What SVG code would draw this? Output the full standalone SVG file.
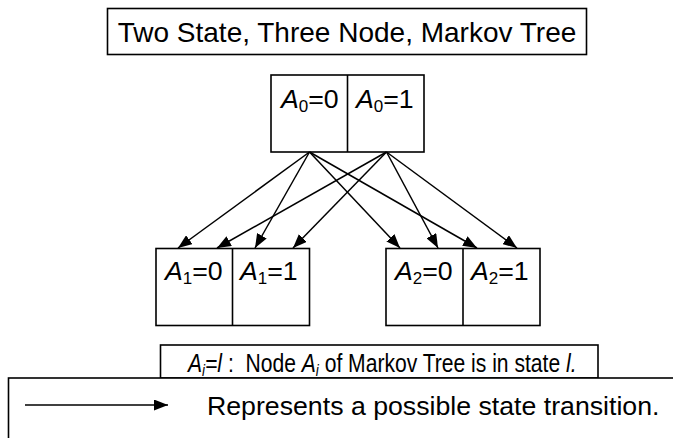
<svg xmlns="http://www.w3.org/2000/svg" width="673" height="438" viewBox="0 0 673 438">
  <defs>
    <marker id="arrow" viewBox="0 0 14 11" refX="14" refY="5.5" markerWidth="14" markerHeight="11" markerUnits="userSpaceOnUse" orient="auto">
      <path d="M0,0 L14,5.5 L0,11 z" fill="#000"/>
    </marker>
    <style>
      .box { fill: #fff; stroke: #000; stroke-width: 1.6; }
      .div { stroke: #000; stroke-width: 1.6; }
      .edge { stroke: #000; stroke-width: 1.5; fill: none; marker-end: url(#arrow); }
      text { font-family: "Liberation Sans", Arial, sans-serif; font-size: 26.7px; fill: #000; }
      .title { font-size: 28px; }
      .it { font-style: italic; }
      .sub { font-size: 17px; }
    </style>
  </defs>

  <!-- title -->
  <g id="title">
    <rect class="box" x="107.5" y="8.5" width="479" height="46"/>
    <text class="title" x="347" y="41.5" text-anchor="middle">Two State, Three Node, Markov Tree</text>
  </g>

  <!-- node A0 -->
  <g id="node-a0">
    <rect class="box" x="271" y="75" width="153" height="77"/>
    <line class="div" x1="347.5" y1="75" x2="347.5" y2="152"/>
    <text x="281" y="108"><tspan class="it">A</tspan><tspan class="sub" dy="4">0</tspan><tspan dy="-4">=0</tspan></text>
    <text x="356" y="108"><tspan class="it">A</tspan><tspan class="sub" dy="4">0</tspan><tspan dy="-4">=1</tspan></text>
  </g>

  <!-- node A1 -->
  <g id="node-a1">
    <rect class="box" x="156" y="248.5" width="153.5" height="77"/>
    <line class="div" x1="232.5" y1="248.5" x2="232.5" y2="325.5"/>
    <text x="165" y="280"><tspan class="it">A</tspan><tspan class="sub" dy="4">1</tspan><tspan dy="-4">=0</tspan></text>
    <text x="240" y="280"><tspan class="it">A</tspan><tspan class="sub" dy="4">1</tspan><tspan dy="-4">=1</tspan></text>
  </g>

  <!-- node A2 -->
  <g id="node-a2">
    <rect class="box" x="386" y="248.5" width="154" height="77"/>
    <line class="div" x1="463" y1="248.5" x2="463" y2="325.5"/>
    <text x="395" y="280"><tspan class="it">A</tspan><tspan class="sub" dy="4">2</tspan><tspan dy="-4">=0</tspan></text>
    <text x="471" y="280"><tspan class="it">A</tspan><tspan class="sub" dy="4">2</tspan><tspan dy="-4">=1</tspan></text>
  </g>

  <!-- transitions -->
  <g id="connectors">
    <line class="edge" x1="309.5" y1="152" x2="178" y2="248"/>
    <line class="edge" x1="309.5" y1="152" x2="255" y2="248"/>
    <line class="edge" x1="309.5" y1="152" x2="400" y2="248"/>
    <line class="edge" x1="309.5" y1="152" x2="477" y2="248"/>
    <line class="edge" x1="386.5" y1="152" x2="217" y2="248"/>
    <line class="edge" x1="386.5" y1="152" x2="293" y2="248"/>
    <line class="edge" x1="386.5" y1="152" x2="438" y2="248"/>
    <line class="edge" x1="386.5" y1="152" x2="517" y2="248"/>
  </g>

  <!-- legend: state notation -->
  <g id="legend-state">
    <rect class="box" x="160.5" y="345" width="437.5" height="33"/>
    <text transform="translate(188,372) scale(0.79,1)"><tspan class="it">A</tspan><tspan class="sub it" dy="4">i</tspan><tspan class="it" dy="-4">=l</tspan><tspan xml:space="preserve"> :  Node </tspan><tspan class="it">A</tspan><tspan class="sub it" dy="4">i</tspan><tspan dy="-4" xml:space="preserve"> of Markov Tree is in state </tspan><tspan class="it">l.</tspan></text>
  </g>

  <!-- legend: transition -->
  <g id="legend-transition">
    <rect class="box" x="8.5" y="378" width="700" height="80"/>
    <line class="edge" x1="25" y1="405" x2="168" y2="405"/>
    <text x="207" y="415">Represents a possible state transition.</text>
  </g>
</svg>
